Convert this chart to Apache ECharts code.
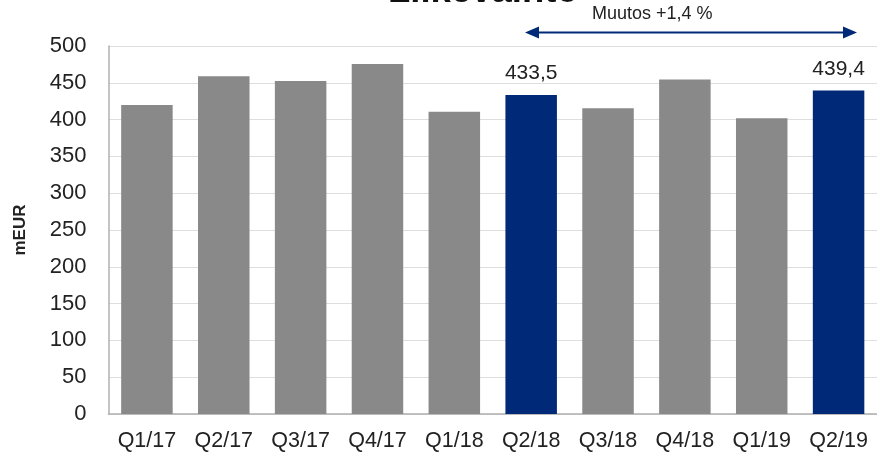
<!DOCTYPE html>
<html>
<head>
<meta charset="utf-8">
<script src="https://cdn.jsdelivr.net/npm/echarts@6/dist/echarts.min.js"></script>
<style>
  html, body { margin: 0; padding: 0; background: #fff; }
  #chartsDom { width: 877px; height: 452px; }
</style>
</head>
<body>
<div id="chartsDom"></div>
<script>
// kvartaalit
var quarters = ["Q1/17", "Q2/17", "Q3/17", "Q4/17", "Q1/18", "Q2/18", "Q3/18", "Q4/18", "Q1/19", "Q2/19"];
// liikevaihto, mEUR
var revenue = [420, 459, 452.5, 475.5, 410.5, 433.5, 415.5, 454.5, 402, 439.4];
// korostetut palkit (vertailukvartaalit)
var highlighted = ["Q2/18", "Q2/19"];
var yTicks = [0, 50, 100, 150, 200, 250, 300, 350, 400, 450, 500];

var grey = "#898989";
var navy = "#002a78";

var myChart = echarts.init(document.getElementById("chartsDom"));

var barData = revenue.map(function (v, i) {
  var hi = highlighted.indexOf(quarters[i]) >= 0;
  return {
    value: v,
    itemStyle: { color: hi ? navy : grey },
    label: {
      show: hi,
      position: "top",
      distance: 11,
      color: "#222",
      fontSize: 21,
      fontFamily: "Liberation Sans",
      formatter: function (p) { return String(p.value).replace(".", ","); }
    }
  };
});

var option = {
  animation: false,
  grid: { left: 108.5, right: -7.5, top: 46, bottom: 36.5 },
  xAxis: {
    type: "category",
    data: quarters,
    axisLine: { lineStyle: { color: "#b0b0b0", width: 1.5 } },
    axisTick: { show: false },
    axisLabel: { color: "#222", fontSize: 21.5, fontFamily: "Liberation Sans", margin: 16 }
  },
  yAxis: {
    type: "value",
    min: yTicks[0],
    max: yTicks[yTicks.length - 1],
    interval: 50,
    name: "mEUR",
    nameLocation: "middle",
    nameGap: 80,
    nameTextStyle: { color: "#222", fontSize: 17, fontWeight: "bold", fontFamily: "Liberation Sans" },
    axisLine: { show: true, lineStyle: { color: "#b0b0b0", width: 1.5 } },
    axisTick: { show: false },
    splitLine: { lineStyle: { color: "#dedede", width: 1.2 } },
    axisLabel: { color: "#222", fontSize: 22, fontFamily: "Liberation Sans", margin: 22 }
  },
  series: [{
    type: "bar",
    data: barData,
    barWidth: 51.5
  }],
  graphic: [
    {
      type: "text",
      left: 388, top: -27,
      style: { text: "Liikevaihto", fontSize: 36.5, fontWeight: "bold", fontFamily: "Liberation Sans", fill: "#111" }
    },
    {
      type: "text",
      left: 592, top: 5,
      style: { text: "Muutos +1,4 %", fontSize: 18, fontFamily: "Liberation Sans", fill: "#222" }
    },
    {
      type: "line",
      shape: { x1: 535, y1: 32.5, x2: 848, y2: 32.5 },
      style: { stroke: navy, lineWidth: 2 }
    },
    {
      type: "polygon",
      shape: { points: [[525, 32.5], [539, 26.5], [539, 38.5]] },
      style: { fill: navy }
    },
    {
      type: "polygon",
      shape: { points: [[857, 32.5], [843, 26.5], [843, 38.5]] },
      style: { fill: navy }
    }
  ]
};
option && myChart.setOption(option);
</script>
</body>
</html>
